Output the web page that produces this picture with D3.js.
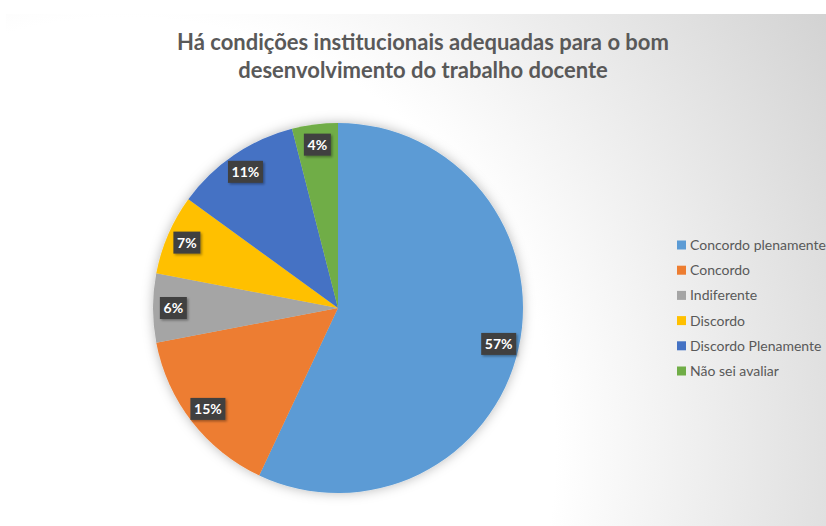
<!DOCTYPE html>
<html><head><meta charset="utf-8">
<script src="https://cdn.jsdelivr.net/npm/d3@7/dist/d3.min.js"></script>
<style>body{margin:0;background:#fff;}svg{display:block;}</style>
</head><body>
<svg id="chart" width="826" height="526"></svg>
<script>
const titleLines = ["Há condições institucionais adequadas para o bom", "desenvolvimento do trabalho docente"];
const categories = ["Concordo plenamente", "Concordo", "Indiferente", "Discordo", "Discordo Plenamente", "Não sei avaliar"];
const values = [57, 15, 6, 7, 11, 4];
const colors = ["#5B9BD5", "#ED7D31", "#A5A5A5", "#FFC000", "#4472C4", "#70AD47"];

const svg = d3.select("#chart");
const defs = svg.append("defs");
const grad = defs.append("radialGradient").attr("id", "bg")
  .attr("gradientUnits", "userSpaceOnUse")
  .attr("cx", 124).attr("cy", 449).attr("r", 830);
grad.append("stop").attr("offset", "0").attr("stop-color", "#ffffff");
grad.append("stop").attr("offset", "0.52").attr("stop-color", "#ffffff");
grad.append("stop").attr("offset", "1").attr("stop-color", "#d2d2d2");

const sh = defs.append("filter").attr("id", "pieShadow").attr("x", "-20%").attr("y", "-20%").attr("width", "140%").attr("height", "140%");
sh.append("feDropShadow").attr("dx", 0).attr("dy", 0).attr("stdDeviation", 6).attr("flood-color", "#000").attr("flood-opacity", 0.28);
const lsh = defs.append("filter").attr("id", "lblShadow").attr("x", "-30%").attr("y", "-30%").attr("width", "160%").attr("height", "160%");
lsh.append("feDropShadow").attr("dx", 1.5).attr("dy", 1.5).attr("stdDeviation", 1.2).attr("flood-color", "#000").attr("flood-opacity", 0.35);

svg.append("rect").attr("x", 6).attr("y", 14).attr("width", 820).attr("height", 512).attr("fill", "url(#bg)");

const font = "Lato, 'Open Sans', sans-serif";
svg.append("g").selectAll("text").data(titleLines).join("text")
  .attr("x", 423).attr("y", (d, i) => 50 + i * 28)
  .attr("text-anchor", "middle")
  .attr("font-family", font).attr("font-weight", "bold").attr("font-size", 22)
  .attr("fill", "#595959").text(d => d);

const cx = 338, cy = 308, R = 185;
const data = categories.map((c, i) => ({cat: c, value: values[i], color: colors[i]}));
const pie = d3.pie().sort(null).value(d => d.value);
const arc = d3.arc().innerRadius(0).outerRadius(R);
const labelArc = d3.arc().innerRadius(R * 0.89).outerRadius(R * 0.89);
const arcs = pie(data);

const g = svg.append("g").attr("transform", `translate(${cx},${cy})`);
g.append("g").attr("filter", "url(#pieShadow)")
  .selectAll("path").data(arcs).join("path")
  .attr("d", arc).attr("fill", d => d.data.color);

const total = d3.sum(values);
const lbl = g.append("g").selectAll("g").data(arcs).join("g")
  .attr("transform", d => { const [x, y] = labelArc.centroid(d); return `translate(${x},${y})`; });
lbl.each(function(d) {
  const t = Math.round(d.data.value / total * 100) + "%";
  const w = t.length === 3 ? 35 : 27;
  const s = d3.select(this);
  s.append("rect").attr("x", -w / 2).attr("y", -11).attr("width", w).attr("height", 22)
    .attr("fill", "#404040").attr("filter", "url(#lblShadow)");
  s.append("text").attr("text-anchor", "middle").attr("dy", "0.36em")
    .attr("font-family", font).attr("font-weight", "bold").attr("font-size", 14)
    .attr("fill", "#ffffff").text(t);
});

const legend = svg.append("g").attr("transform", "translate(677,245)");
const li = legend.selectAll("g").data(data).join("g")
  .attr("transform", (d, i) => `translate(0,${i * 25.2})`);
li.append("rect").attr("x", 0).attr("y", -4.5).attr("width", 9).attr("height", 9).attr("fill", d => d.color);
li.append("text").attr("x", 13).attr("dy", "0.36em")
  .attr("font-family", font).attr("font-size", 14).attr("fill", "#595959").text(d => d.cat);
</script>
</body></html>
